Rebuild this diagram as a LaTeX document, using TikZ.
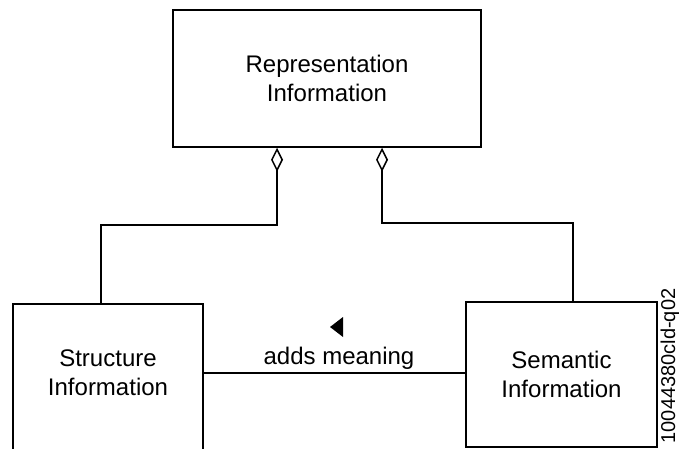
\documentclass[tikz,border=0pt]{standalone}
\usepackage{fontspec}
\setmainfont{Liberation Sans}
\usetikzlibrary{arrows.meta}

\begin{document}
\begin{tikzpicture}
                [
                x=0.5pt, y=-0.5pt,
                box/.style={rectangle,draw,line width=0.75pt,inner sep=0pt,align=center,font=\fontsize{12}{14.4}\selectfont},
                agg/.style={{Diamond[open,length=12pt,width=6pt]}-,line width=0.75pt},
                assoc/.style={line width=0.75pt}
                ]
            \useasboundingbox (0,0) rectangle (679,449);
            \node[box,minimum width=154pt,minimum height=68.5pt] (rep) at (327,78.5) {Representation\\Information};
            \node[box,minimum width=95pt,minimum height=74pt] (struct) at (108,378) {};
            \node[align=center,inner sep=0pt,font=\fontsize{12}{14.4}\selectfont] (structtxt) at (108,373) {Structure\\Information};
            \node[box,minimum width=95.5pt,minimum height=72.5pt] (sem) at (561.5,374.5) {Semantic\\Information};
            \coordinate (mid) at (339,373);
            \node[anchor=base,font=\fontsize{12}{14.4}\selectfont] (adds) at (339,364) {adds meaning};
            \node[rotate=90,inner sep=0pt,font=\fontsize{10}{12}\selectfont] (figid) at (670,366) {10044380cld-q02};
            \draw[agg] ([xshift=-25pt]rep.south) -- ++(0,77) -| ([xshift=-3.5pt]struct.north);
            \draw[agg] ([xshift=27.5pt]rep.south) -- ++(0,75) -| ([xshift=5.75pt]sem.north);
            \draw[assoc] (struct.east |- mid) -- (sem.west |- mid);
            \fill (343,317) -- (330,327) -- (343,337) -- cycle;
            \end{tikzpicture}
\end{document}
